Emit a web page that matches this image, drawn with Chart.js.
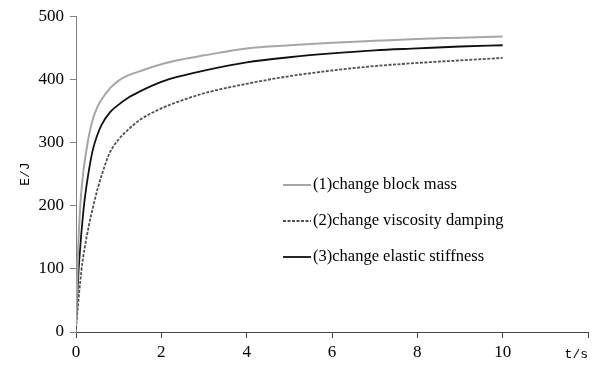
<!DOCTYPE html>
<html>
<head>
<meta charset="utf-8">
<script src="https://cdn.jsdelivr.net/npm/chart.js@4.4.0/dist/chart.umd.min.js"></script>
<style>
    html, body { margin: 0; padding: 0; background: #ffffff; }
    #wrap { width: 595px; height: 371px; }
</style>
</head>
<body>
<div id="wrap"><canvas id="energy-chart" width="595" height="371"></canvas></div>
<script>
// tempo (s)
const timeS = [0, 0.05, 0.1, 0.15, 0.2, 0.3, 0.4, 0.5, 0.6, 0.8, 1, 1.25, 1.5, 2, 2.5, 3, 4, 5, 6, 7, 8, 9, 10];

// energia (J) para cada caso
const blockMassE   = [10, 130, 200, 240, 268, 310, 338, 356, 368, 386, 398, 407, 413, 424, 432, 438, 449, 454, 458, 461, 464, 466, 468];
const viscosityE   = [5, 45, 80, 110, 132, 168, 198, 225, 248, 285, 305, 322, 336, 354, 367, 378, 393, 405, 414, 421, 426, 430, 434];
const stiffnessE   = [10, 85, 135, 175, 208, 255, 290, 312, 328, 348, 360, 372, 381, 396, 406, 414, 427, 435, 441, 446, 449, 452, 454];

const seriesLabels = ['(1)change block mass', '(2)change viscosity damping', '(3)change elastic stiffness'];
const xTicks = [0, 2, 4, 6, 8, 10, 12];
const yTicks = [0, 100, 200, 300, 400, 500];

const SERIF = "'Liberation Serif', 'Times New Roman', serif";
const MONO = "'Liberation Mono', 'Courier New', monospace";

function toPoints(ys) {
    return timeS.map((t, i) => ({ x: t, y: ys[i] }));
}

// legenda desenhada dentro da área do gráfico + rótulo t/s
const insideLegend = {
    id: 'insideLegend',
    afterDraw(chart) {
        const ctx = chart.ctx;
        const rows = [185, 221, 257];
        ctx.save();
        chart.data.datasets.forEach((ds, i) => {
            const y = rows[i];
            ctx.beginPath();
            ctx.strokeStyle = ds.borderColor;
            ctx.lineWidth = ds.borderWidth;
            ctx.setLineDash(ds.borderDash || []);
            ctx.moveTo(283, y);
            ctx.lineTo(311, y);
            ctx.stroke();
            ctx.setLineDash([]);
            ctx.fillStyle = '#000000';
            ctx.font = '16.5px ' + SERIF;
            ctx.textAlign = 'left';
            ctx.textBaseline = 'middle';
            ctx.fillText(ds.label, 313, y);
        });
        const xs = chart.scales.x;
        ctx.font = '13px ' + MONO;
        ctx.textAlign = 'right';
        ctx.textBaseline = 'middle';
        ctx.fillStyle = '#000000';
        ctx.fillText('t/s', xs.right, 355);
        ctx.restore();
    }
};

const ctx = document.getElementById('energy-chart').getContext('2d');
new Chart(ctx, {
    type: 'line',
    data: {
        datasets: [
            {
                label: seriesLabels[0],
                data: toPoints(blockMassE),
                borderColor: '#a6a6a6',
                borderWidth: 2,
                pointRadius: 0,
                cubicInterpolationMode: 'monotone',
                fill: false
            },
            {
                label: seriesLabels[1],
                data: toPoints(viscosityE),
                borderColor: '#505050',
                borderWidth: 1.8,
                borderDash: [3, 1.5],
                pointRadius: 0,
                cubicInterpolationMode: 'monotone',
                fill: false
            },
            {
                label: seriesLabels[2],
                data: toPoints(stiffnessE),
                borderColor: '#111111',
                borderWidth: 1.8,
                pointRadius: 0,
                cubicInterpolationMode: 'monotone',
                fill: false
            }
        ]
    },
    options: {
        responsive: false,
        animation: false,
        layout: { padding: { top: 13, right: 7, left: 0, bottom: 0 } },
        plugins: {
            legend: { display: false },
            tooltip: { enabled: false }
        },
        scales: {
            x: {
                type: 'linear',
                min: 0,
                max: 12,
                afterBuildTicks: (s) => { s.ticks = xTicks.map(v => ({ value: v })); },
                afterFit: (s) => { s.height = 39; },
                ticks: {
                    color: '#000000',
                    font: { family: SERIF, size: 17 },
                    padding: 4,
                    maxRotation: 0,
                    callback: (v) => (v === 12 ? '' : String(v))
                },
                grid: {
                    drawOnChartArea: false,
                    drawTicks: true,
                    tickLength: 6,
                    color: '#444444'
                },
                border: { color: '#444444', width: 1 }
            },
            y: {
                min: 0,
                max: 500,
                afterBuildTicks: (s) => { s.ticks = yTicks.map(v => ({ value: v })); },
                afterFit: (s) => { s.width = 76; },
                title: {
                    display: true,
                    text: 'E/J',
                    color: '#000000',
                    font: { family: MONO, size: 13 },
                    padding: { top: 18, bottom: 0 }
                },
                ticks: {
                    color: '#000000',
                    font: { family: SERIF, size: 17 },
                    padding: 6
                },
                grid: {
                    drawOnChartArea: false,
                    drawTicks: true,
                    tickLength: 6,
                    color: '#808080'
                },
                border: { color: '#808080', width: 1 }
            }
        }
    },
    plugins: [insideLegend]
});
</script>
</body>
</html>
